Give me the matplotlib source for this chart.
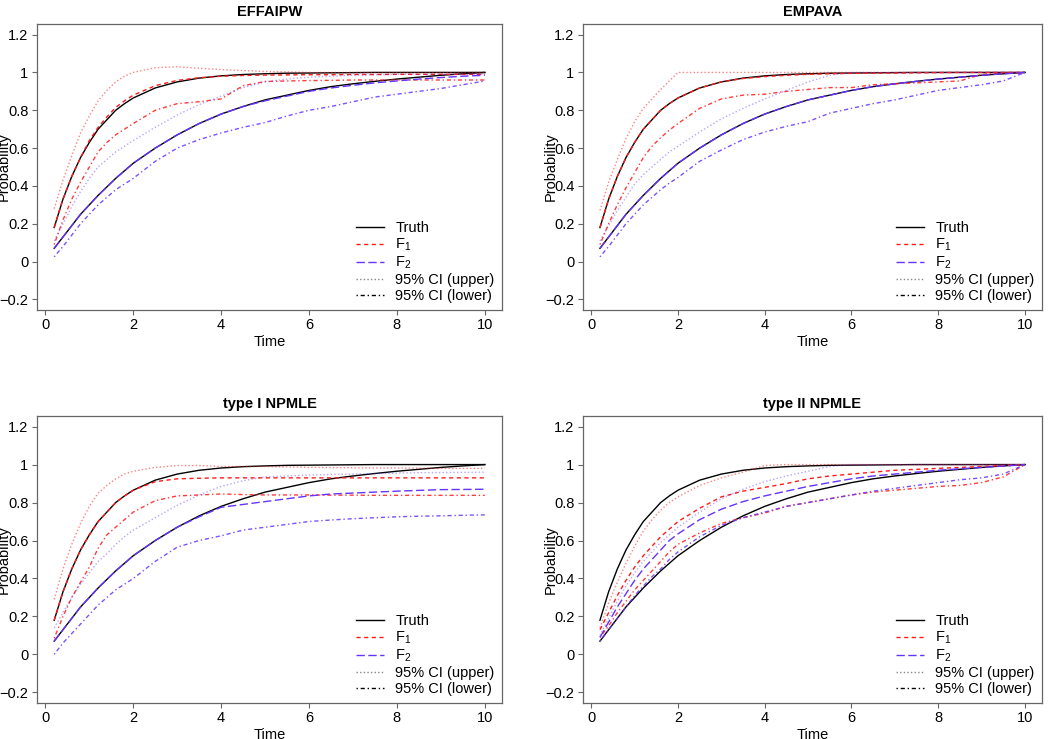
import numpy as np
import matplotlib
matplotlib.use("Agg")
import matplotlib.pyplot as plt
from matplotlib.ticker import FuncFormatter

plt.rcParams['font.family'] = ['Liberation Sans', 'DejaVu Sans']
plt.rcParams['mathtext.fontset'] = 'custom'
plt.rcParams['mathtext.rm'] = 'Liberation Sans'
plt.rcParams['mathtext.it'] = 'Liberation Sans:italic'

# time grid shared by all curves
time = [0.2, 0.4, 0.6, 0.8, 1.0, 1.2, 1.4, 1.6, 1.8, 2.0, 2.5, 3.0, 3.5, 4.0,
        4.5, 5.0, 5.5, 6.0, 6.5, 7.0, 7.5, 8.0, 8.5, 9.0, 9.5, 10.0]

# true cumulative incidence curves
truth1 = [0.18, 0.33, 0.45, 0.55, 0.63, 0.70, 0.75, 0.80, 0.835, 0.865, 0.918, 0.95, 0.97,
          0.982, 0.989, 0.993, 0.996, 0.997, 0.998, 0.999, 1.0, 1.0, 1.0, 1.0, 1.0, 1.0]
truth2 = [0.07, 0.13, 0.19, 0.25, 0.30, 0.35, 0.395, 0.44, 0.48, 0.52, 0.60, 0.67, 0.73,
          0.78, 0.82, 0.855, 0.88, 0.905, 0.925, 0.94, 0.953, 0.965, 0.975, 0.985, 0.993, 1.0]

titles = ["EFFAIPW", "EMPAVA", "type I NPMLE", "type II NPMLE"]

# EFFAIPW
eff_f1 = [0.18, 0.33, 0.45, 0.55, 0.64, 0.71, 0.765, 0.815, 0.85, 0.88, 0.93, 0.958, 0.972,
          0.98, 0.984, 0.986, 0.987, 0.988, 0.988, 0.989, 0.989, 0.99, 0.99, 0.99, 0.99, 0.99]
eff_f1_up = [0.28, 0.43, 0.56, 0.68, 0.77, 0.85, 0.905, 0.95, 0.98, 1.0, 1.025, 1.03, 1.022,
             1.015, 1.01, 1.005, 1.003, 1.0, 1.0, 1.0, 1.0, 1.0, 1.0, 1.0, 1.0, 1.0]
eff_f1_lo = [0.09, 0.22, 0.33, 0.42, 0.50, 0.58, 0.63, 0.67, 0.70, 0.73, 0.80, 0.835, 0.845,
             0.86, 0.93, 0.952, 0.955, 0.957, 0.958, 0.96, 0.96, 0.96, 0.96, 0.96, 0.96, 0.96]
eff_f2 = [0.07, 0.13, 0.19, 0.25, 0.30, 0.35, 0.395, 0.44, 0.48, 0.52, 0.60, 0.67, 0.73,
          0.78, 0.82, 0.85, 0.875, 0.9, 0.918, 0.932, 0.945, 0.955, 0.965, 0.973, 0.98, 0.985]
eff_f2_up = [0.11, 0.20, 0.29, 0.37, 0.44, 0.50, 0.54, 0.58, 0.61, 0.64, 0.71, 0.775, 0.83,
             0.875, 0.92, 0.95, 0.965, 0.975, 0.98, 0.985, 0.988, 0.99, 0.99, 0.99, 0.99, 0.99]
eff_f2_lo = [0.025, 0.08, 0.14, 0.20, 0.25, 0.30, 0.34, 0.38, 0.41, 0.44, 0.53, 0.60, 0.645,
             0.68, 0.71, 0.735, 0.77, 0.80, 0.82, 0.845, 0.87, 0.885, 0.90, 0.915, 0.935, 0.955]

# EMPAVA
emp_f1 = [0.18, 0.33, 0.45, 0.55, 0.63, 0.70, 0.75, 0.80, 0.835, 0.865, 0.918, 0.95, 0.968,
          0.978, 0.985, 0.99, 0.993, 0.995, 0.996, 0.997, 0.998, 0.999, 1.0, 1.0, 1.0, 1.0]
emp_f1_up = [0.27, 0.42, 0.54, 0.65, 0.74, 0.81, 0.86, 0.91, 0.955, 1.0, 1.0, 1.0, 1.0,
             1.0, 1.0, 1.0, 1.0, 1.0, 1.0, 1.0, 1.0, 1.0, 1.0, 1.0, 1.0, 1.0]
emp_f1_lo = [0.09, 0.20, 0.30, 0.39, 0.47, 0.55, 0.61, 0.655, 0.695, 0.73, 0.81, 0.86, 0.88,
             0.885, 0.90, 0.91, 0.92, 0.92, 0.935, 0.94, 0.945, 0.95, 0.955, 0.99, 0.997, 1.0]
emp_f2 = [0.07, 0.13, 0.19, 0.25, 0.30, 0.35, 0.395, 0.44, 0.48, 0.52, 0.60, 0.67, 0.73,
          0.78, 0.82, 0.855, 0.88, 0.905, 0.925, 0.94, 0.953, 0.965, 0.975, 0.985, 0.993, 1.0]
emp_f2_up = [0.11, 0.19, 0.27, 0.34, 0.41, 0.46, 0.50, 0.54, 0.58, 0.61, 0.685, 0.755, 0.81,
             0.86, 0.905, 0.95, 0.985, 1.0, 1.0, 1.0, 1.0, 1.0, 1.0, 1.0, 1.0, 1.0]
emp_f2_lo = [0.025, 0.08, 0.14, 0.20, 0.25, 0.30, 0.34, 0.38, 0.415, 0.445, 0.53, 0.59, 0.645,
             0.685, 0.715, 0.74, 0.785, 0.81, 0.835, 0.855, 0.88, 0.905, 0.92, 0.935, 0.955, 1.0]

# type I NPMLE
np1_f1 = [0.18, 0.33, 0.45, 0.55, 0.63, 0.70, 0.75, 0.80, 0.835, 0.865, 0.91, 0.925, 0.928,
          0.93, 0.93, 0.93, 0.93, 0.93, 0.93, 0.93, 0.93, 0.93, 0.93, 0.93, 0.93, 0.93]
np1_f1_up = [0.29, 0.45, 0.58, 0.69, 0.78, 0.85, 0.89, 0.925, 0.95, 0.965, 0.985, 0.995, 0.995,
             0.99, 0.99, 0.99, 0.988, 0.985, 0.984, 0.983, 0.982, 0.982, 0.981, 0.98, 0.98, 0.98]
np1_f1_lo = [0.085, 0.20, 0.30, 0.38, 0.46, 0.56, 0.63, 0.67, 0.71, 0.75, 0.81, 0.835, 0.84,
             0.845, 0.842, 0.84, 0.84, 0.84, 0.839, 0.839, 0.838, 0.838, 0.838, 0.838, 0.838, 0.838]
np1_f2 = [0.07, 0.13, 0.19, 0.25, 0.30, 0.35, 0.395, 0.44, 0.48, 0.52, 0.60, 0.67, 0.725,
          0.775, 0.79, 0.805, 0.82, 0.835, 0.845, 0.85, 0.855, 0.86, 0.864, 0.868, 0.869, 0.87]
np1_f2_up = [0.14, 0.22, 0.30, 0.37, 0.43, 0.49, 0.53, 0.58, 0.62, 0.655, 0.72, 0.785, 0.84,
             0.885, 0.915, 0.935, 0.94, 0.945, 0.948, 0.95, 0.953, 0.955, 0.957, 0.958, 0.959, 0.96]
np1_f2_lo = [0.0, 0.06, 0.11, 0.16, 0.21, 0.26, 0.30, 0.34, 0.37, 0.40, 0.49, 0.565, 0.60,
             0.625, 0.655, 0.67, 0.685, 0.70, 0.708, 0.715, 0.72, 0.725, 0.728, 0.73, 0.733, 0.735]

# type II NPMLE
np2_f1 = [0.13, 0.22, 0.31, 0.39, 0.46, 0.52, 0.57, 0.62, 0.66, 0.70, 0.77, 0.83, 0.86,
          0.88, 0.90, 0.925, 0.94, 0.95, 0.96, 0.97, 0.975, 0.98, 0.985, 0.99, 0.995, 1.0]
np2_f1_up = [0.14, 0.27, 0.38, 0.48, 0.57, 0.65, 0.71, 0.76, 0.80, 0.83, 0.89, 0.93, 0.96,
             0.995, 1.0, 1.0, 1.0, 1.0, 1.0, 1.0, 1.0, 1.0, 1.0, 1.0, 1.0, 1.0]
np2_f1_lo = [0.09, 0.15, 0.22, 0.28, 0.34, 0.39, 0.44, 0.49, 0.54, 0.58, 0.64, 0.69, 0.72,
             0.745, 0.78, 0.80, 0.82, 0.84, 0.855, 0.865, 0.875, 0.885, 0.89, 0.905, 0.935, 1.0]
np2_f2 = [0.09, 0.17, 0.25, 0.32, 0.39, 0.45, 0.50, 0.55, 0.60, 0.635, 0.71, 0.765, 0.805,
          0.835, 0.86, 0.885, 0.905, 0.925, 0.94, 0.95, 0.96, 0.97, 0.978, 0.985, 0.992, 1.0]
np2_f2_up = [0.10, 0.19, 0.28, 0.36, 0.43, 0.49, 0.54, 0.59, 0.63, 0.67, 0.75, 0.82, 0.87,
             0.91, 0.94, 0.965, 0.99, 1.0, 1.0, 1.0, 1.0, 1.0, 1.0, 1.0, 1.0, 1.0]
np2_f2_lo = [0.07, 0.13, 0.19, 0.25, 0.31, 0.36, 0.41, 0.45, 0.50, 0.54, 0.62, 0.68, 0.72,
             0.75, 0.78, 0.80, 0.82, 0.84, 0.86, 0.875, 0.89, 0.905, 0.92, 0.93, 0.95, 1.0]

panels = [
    (eff_f1, eff_f1_up, eff_f1_lo, eff_f2, eff_f2_up, eff_f2_lo),
    (emp_f1, emp_f1_up, emp_f1_lo, emp_f2, emp_f2_up, emp_f2_lo),
    (np1_f1, np1_f1_up, np1_f1_lo, np1_f2, np1_f2_up, np1_f2_lo),
    (np2_f1, np2_f1_up, np2_f1_lo, np2_f2, np2_f2_up, np2_f2_lo),
]

red = '#ff1a1a'
blue = '#6633ff'
dashed = (0, (3, 2.5))
longdash = (0, (6, 2.5))
dotted = (0, (1, 1.6))
dashdot = (0, (1, 2, 3, 2))
frame_col = '#666666'

fig = plt.figure(figsize=(10.5, 7.39), dpi=100)
positions = [
    [0.0352, 0.5805, 0.4429, 0.3870],
    [0.5552, 0.5805, 0.4371, 0.3870],
    [0.0352, 0.0487, 0.4429, 0.3884],
    [0.5552, 0.0487, 0.4371, 0.3884],
]

fmt = FuncFormatter(lambda v, p: ('%g' % round(v, 2)).replace('-', '\u2212'))

for pos, title, curves in zip(positions, titles, panels):
    f1, f1_up, f1_lo, f2, f2_up, f2_lo = curves
    ax = fig.add_axes(pos)
    ax.plot(time, truth1, color='black', lw=1.0)
    ax.plot(time, truth2, color='black', lw=1.0)
    ax.plot(time, f1, color=red, lw=1.0, linestyle=dashed)
    ax.plot(time, f1_up, color=red, lw=1.0, linestyle=dotted, alpha=0.55)
    ax.plot(time, f1_lo, color=red, lw=1.0, linestyle=dashdot, alpha=0.85)
    ax.plot(time, f2, color=blue, lw=1.0, linestyle=longdash)
    ax.plot(time, f2_up, color=blue, lw=1.0, linestyle=dotted, alpha=0.45)
    ax.plot(time, f2_lo, color=blue, lw=1.0, linestyle=dashdot, alpha=0.85)

    ax.set_xlim(-0.192, 10.392)
    ax.set_ylim(-0.256, 1.256)
    ax.set_xticks([0, 2, 4, 6, 8, 10])
    ax.set_yticks([-0.2, 0, 0.2, 0.4, 0.6, 0.8, 1.0, 1.2])
    ax.yaxis.set_major_formatter(fmt)
    ax.tick_params(direction='out', length=3.6, width=0.8, color=frame_col,
                   labelsize=10.5, pad=2.5)
    for s in ax.spines.values():
        s.set_color(frame_col)
        s.set_linewidth(0.9)
    ax.set_title(title, fontsize=10.5, fontweight='bold', pad=6)
    ax.set_xlabel('Time', fontsize=10.5, labelpad=2)
    ax.set_ylabel('Probability', fontsize=10.5)
    ax.yaxis.set_label_coords(-0.056, 0.5)

    handles = [
        plt.Line2D([], [], color='black', lw=1.0),
        plt.Line2D([], [], color=red, lw=1.0, linestyle=dashed),
        plt.Line2D([], [], color=blue, lw=1.0, linestyle=longdash),
        plt.Line2D([], [], color='#888888', lw=1.0, linestyle=dotted),
        plt.Line2D([], [], color='black', lw=1.0, linestyle=dashdot),
    ]
    labels = ['Truth', r'F$_1$', r'F$_2$', '95% CI (upper)', '95% CI (lower)']
    ax.legend(handles, labels, loc='lower right', frameon=False, fontsize=10.5,
              handlelength=1.9, handletextpad=0.8, labelspacing=0.12,
              borderaxespad=0.3, borderpad=0.2)

fig.savefig('out.png', dpi=100)
